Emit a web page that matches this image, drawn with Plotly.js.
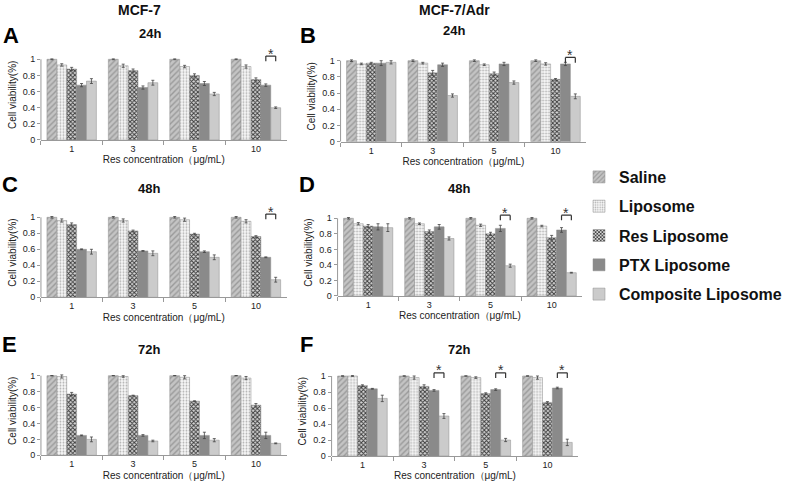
<!DOCTYPE html>
<html><head><meta charset="utf-8">
<script src="https://cdn.plot.ly/plotly-3.0.1.min.js"></script>
<style>html,body{margin:0;padding:0;background:#fff}#chart{width:787px;height:488px}</style>
</head><body><div id="chart"></div>
<script>
const concentrations = ['1','3','5','10'];
const seriesNames = ['Saline','Liposome','Res Liposome','PTX Liposome','Composite Liposome'];
const panelLetters = ['A','B','C','D','E','F'];
const panelTimes = ['24h','24h','48h','48h','72h','72h'];
const columnTitles = ['MCF-7','MCF-7/Adr'];

// values: rows = series (Saline, Liposome, Res, PTX, Composite), cols = concentrations
const valsA = [[1,1,1,1],[0.93,0.92,0.91,0.91],[0.88,0.86,0.80,0.75],[0.68,0.65,0.70,0.68],[0.73,0.71,0.57,0.40]];
const errA  = [[0.005,0.005,0.005,0.005],[0.015,0.02,0.015,0.02],[0.02,0.02,0.02,0.02],[0.02,0.02,0.025,0.015],[0.03,0.03,0.02,0.01]];
const valsB = [[1,1,1,1],[0.96,0.97,0.95,0.96],[0.97,0.85,0.84,0.77],[0.97,0.95,0.96,0.96],[0.98,0.57,0.73,0.56]];
const errB  = [[0.01,0.01,0.01,0.01],[0.01,0.01,0.01,0.015],[0.01,0.03,0.02,0.01],[0.03,0.02,0.02,0.02],[0.02,0.02,0.02,0.03]];
const valsC = [[1,1,1,1],[0.96,0.96,0.97,0.95],[0.91,0.83,0.79,0.76],[0.60,0.58,0.57,0.50],[0.57,0.55,0.50,0.22]];
const errC  = [[0.01,0.01,0.01,0.01],[0.02,0.02,0.02,0.02],[0.02,0.01,0.01,0.01],[0.005,0.005,0.01,0.005],[0.03,0.03,0.03,0.03]];
const valsD = [[1,1,1,1],[0.93,0.93,0.91,0.90],[0.90,0.83,0.80,0.75],[0.89,0.89,0.87,0.85],[0.88,0.74,0.39,0.30]];
const errD  = [[0.01,0.01,0.01,0.01],[0.015,0.01,0.015,0.01],[0.02,0.02,0.02,0.03],[0.04,0.03,0.04,0.03],[0.05,0.02,0.02,0.005]];
const valsE = [[1,1,1,1],[0.99,0.99,0.98,0.97],[0.77,0.75,0.68,0.63],[0.25,0.25,0.25,0.25],[0.20,0.18,0.19,0.15]];
const errE  = [[0.002,0.002,0.002,0.002],[0.02,0.01,0.02,0.02],[0.02,0.005,0.005,0.02],[0.005,0.01,0.04,0.04],[0.03,0.01,0.02,0.005]];
const valsF = [[1,1,1,1],[1.0,0.98,0.98,0.98],[0.88,0.87,0.78,0.67],[0.84,0.82,0.83,0.85],[0.72,0.50,0.20,0.17]];
const errF  = [[0.002,0.002,0.002,0.002],[0.005,0.02,0.01,0.02],[0.01,0.02,0.01,0.01],[0.005,0.01,0.01,0.01],[0.04,0.03,0.02,0.04]];
// groups (index into concentrations) marked significant between PTX and Composite
const sigA = [3], sigB = [3], sigC = [3], sigD = [2,3], sigE = [], sigF = [1,2,3];

const panelVals = [valsA,valsB,valsC,valsD,valsE,valsF];
const panelErrs = [errA,errB,errC,errD,errE,errF];
const panelSig = [sigA,sigB,sigC,sigD,sigE,sigF];

const W = 787, H = 488, YTOP = 1.12, BARGAP = 0.195;
// pixel boxes: [left, right, y of value 0, y of value 1]
const boxes = [[41,287,140,59.3],[341,587,141.7,60.7],[41,287,297.3,217.3],[338,583,296,218.3],[41,287,455.3,375.7],[332,579,456,376]];
const letterPos = [[11,35],[308,35],[10,185],[307,185],[10,344],[307,344]];
const timePos = [[150,33],[455,31],[149,188],[460,188],[149,349],[460,349]];

const styles = [
  {color:'#bdbdbd', pattern:{shape:'/', fgcolor:'#9a9a9a', bgcolor:'#c4c4c4', size:4, solidity:0.35}},
  {color:'#eeeeee', pattern:{shape:'.', fgcolor:'#b0b0b0', bgcolor:'#f8f8f8', size:3, solidity:0.3}},
  {color:'#777777', pattern:{shape:'x', fgcolor:'#3c3c3c', bgcolor:'#d6d6d6', size:3, solidity:0.55}},
  {color:'#8a8a8a', pattern:{shape:'', fgcolor:'#7a7a7a', bgcolor:'#8a8a8a'}},
  {color:'#cbcbcb', pattern:{shape:''}}
];

const font = 'Liberation Sans, Arial, sans-serif';
const traces = [], shapes = [], annotations = [];
const layout = {
  width: W, height: H, margin:{l:0,r:0,t:0,b:0},
  paper_bgcolor:'#fff', plot_bgcolor:'#fff',
  barmode:'group', bargap: BARGAP, bargroupgap: 0,
  font:{family:font, color:'#222'},
  legend:{x:0.737, y:(H-160)/H, xanchor:'left', yanchor:'top', tracegroupgap:5.5,
    font:{family:font, size:16, weight:'bold', color:'#111'}, itemwidth:30, bgcolor:'rgba(0,0,0,0)'}
};

boxes.forEach((b, k) => {
  const [xl, xr, y0, y1] = b;
  const ytopPx = y0 - YTOP*(y0 - y1);
  const xa = 'xaxis' + (k ? k+1 : ''), ya = 'yaxis' + (k ? k+1 : '');
  const xr_ = 'x' + (k ? k+1 : ''), yr_ = 'y' + (k ? k+1 : '');
  layout[xa] = {domain:[xl/W, xr/W], anchor:yr_, type:'category', range:[-0.5,3.5],
    showline:true, linecolor:'#999', linewidth:1, ticks:'outside', tickson:'boundaries', ticklen:4, tickcolor:'#999',
    showgrid:false, zeroline:false, tickfont:{size:9, color:'#222'},
    title:{text:'Res concentration（μg/mL)', font:{size:10, color:'#222'}, standoff:3}};
  layout[ya] = {domain:[(H-y0)/H, (H-ytopPx)/H], anchor:xr_, range:[0, YTOP],
    tickvals:[0,0.2,0.4,0.6,0.8,1], ticktext:['0','0.2','0.4','0.6','0.8','1'],
    ticks:'outside', ticklen:3, tickcolor:'#999', showline:false, showgrid:false, zeroline:false,
    tickfont:{size:9, color:'#222'},
    title:{text:'Cell viability(%)', font:{size:10, color:'#222'}, standoff:4}};
  shapes.push({type:'line', xref:xr_+' domain', yref:yr_, x0:0, x1:0, y0:0, y1:1, line:{color:'#999', width:1}});
  const w = (1 - BARGAP)/5;
  panelSig[k].forEach(g => {
    const xa0 = g + w, xa1 = g + 2*w;
    [[xa0,0.975,xa0,1.04],[xa0,1.04,xa1,1.04],[xa1,1.04,xa1,0.975]].forEach(s => {
      shapes.push({type:'line', xref:xr_, yref:yr_, x0:s[0], y0:s[1], x1:s[2], y1:s[3], line:{color:'#333', width:1.2}});
    });
    annotations.push({xref:xr_, yref:yr_, x:(xa0+xa1)/2, y:1.07, text:'*', showarrow:false, yanchor:'middle',
      font:{size:14, color:'#333'}});
  });
  seriesNames.forEach((name, i) => {
    traces.push({type:'bar', name:name, legendgroup:name, showlegend:k===0,
      x:concentrations, y:panelVals[k][i], xaxis:xr_, yaxis:yr_, cliponaxis:false,
      marker:Object.assign({line:{color:'#8c8c8c', width:0.5}}, styles[i]),
      error_y:{type:'data', array:panelErrs[k][i], visible:true, color:'#444', thickness:0.8, width:1.5}});
  });
  annotations.push({xref:'paper', yref:'paper', x:letterPos[k][0]/W, y:(H-letterPos[k][1])/H, text:panelLetters[k],
    showarrow:false, xanchor:'center', yanchor:'middle', font:{size:22, weight:'bold', color:'#000', family:font}});
  annotations.push({xref:'paper', yref:'paper', x:timePos[k][0]/W, y:(H-timePos[k][1])/H, text:panelTimes[k],
    showarrow:false, xanchor:'center', yanchor:'middle', font:{size:13, weight:'bold', color:'#111', family:font}});
});
annotations.push({xref:'paper', yref:'paper', x:140/W, y:(H-10)/H, text:columnTitles[0], showarrow:false,
  xanchor:'center', yanchor:'middle', font:{size:14, weight:'bold', color:'#111', family:font}});
annotations.push({xref:'paper', yref:'paper', x:455/W, y:(H-10)/H, text:columnTitles[1], showarrow:false,
  xanchor:'center', yanchor:'middle', font:{size:14, weight:'bold', color:'#111', family:font}});
layout.shapes = shapes;
layout.annotations = annotations;
Plotly.newPlot('chart', traces, layout, {displayModeBar:false, staticPlot:true});
</script></body></html>
